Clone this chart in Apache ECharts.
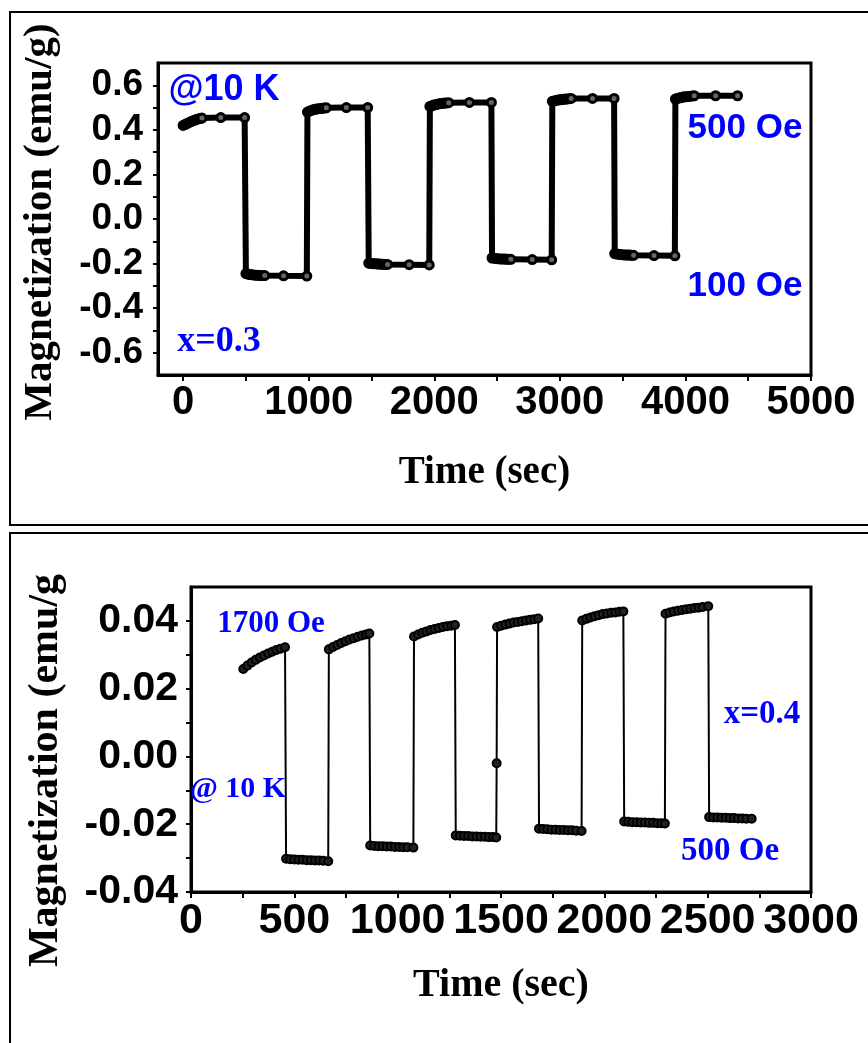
<!DOCTYPE html>
<html>
<head>
<meta charset="utf-8">
<script src="https://cdn.jsdelivr.net/npm/echarts@6/dist/echarts.min.js"></script>
<style>
html,body{margin:0;padding:0;background:#fff;}
#c{width:868px;height:1043px;}
</style>
</head>
<body>
<div id="c"></div>
<script>
// ---------- Panel (a): x = 0.3, 500 Oe / 100 Oe, 10 K ----------
const time1 = [
  0, 15, 30, 45, 60, 75, 90, 105, 120, 135, 150, 300, 490,
  500, 515, 530, 545, 560, 575, 590, 605, 620, 635, 650, 800, 985,
  990, 1005, 1020, 1035, 1050, 1065, 1080, 1095, 1110, 1125, 1140, 1300, 1470,
  1478, 1493, 1508, 1523, 1538, 1553, 1568, 1583, 1598, 1613, 1628, 1800, 1960,
  1965, 1980, 1995, 2010, 2025, 2040, 2055, 2070, 2085, 2100, 2115, 2280, 2455,
  2460, 2475, 2490, 2505, 2520, 2535, 2550, 2565, 2580, 2595, 2610, 2780, 2935,
  2940, 2955, 2970, 2985, 3000, 3015, 3030, 3045, 3060, 3075, 3090, 3260, 3432,
  3437, 3452, 3467, 3482, 3497, 3512, 3527, 3542, 3557, 3572, 3587, 3750, 3916,
  3920, 3935, 3950, 3965, 3980, 3995, 4010, 4025, 4040, 4055, 4070, 4240, 4415
];
const mag1 = [
  0.420, 0.424, 0.428, 0.432, 0.436, 0.440, 0.443, 0.446, 0.449, 0.451, 0.453, 0.455, 0.455,
  -0.245, -0.247, -0.249, -0.250, -0.251, -0.252, -0.252, -0.253, -0.253, -0.254, -0.254, -0.255, -0.256,
  0.480, 0.484, 0.487, 0.490, 0.492, 0.494, 0.495, 0.496, 0.497, 0.498, 0.499, 0.500, 0.500,
  -0.198, -0.199, -0.200, -0.201, -0.201, -0.202, -0.202, -0.203, -0.203, -0.204, -0.204, -0.205, -0.206,
  0.505, 0.508, 0.511, 0.513, 0.515, 0.517, 0.518, 0.519, 0.520, 0.521, 0.522, 0.523, 0.523,
  -0.175, -0.176, -0.177, -0.178, -0.179, -0.179, -0.180, -0.180, -0.181, -0.181, -0.181, -0.182, -0.183,
  0.528, 0.530, 0.532, 0.534, 0.535, 0.536, 0.537, 0.538, 0.539, 0.540, 0.541, 0.541, 0.541,
  -0.155, -0.157, -0.158, -0.159, -0.160, -0.161, -0.161, -0.162, -0.162, -0.163, -0.163, -0.164, -0.165,
  0.538, 0.541, 0.543, 0.545, 0.547, 0.548, 0.549, 0.550, 0.551, 0.552, 0.553, 0.553, 0.553
];
const xTicks1 = [0, 500, 1000, 1500, 2000, 2500, 3000, 3500, 4000, 4500, 5000];
const xLabels1 = [0, 1000, 2000, 3000, 4000, 5000];
const yTicks1 = [-0.6, -0.5, -0.4, -0.3, -0.2, -0.1, 0, 0.1, 0.2, 0.3, 0.4, 0.5, 0.6];
const yLabels1 = [-0.6, -0.4, -0.2, 0, 0.2, 0.4, 0.6];

// ---------- Panel (b): x = 0.4, 1700 Oe / 500 Oe, 10 K ----------
const time2 = [
  253, 273, 293, 313, 333, 353, 373, 393, 413, 433, 455,
  460, 480, 500, 520, 540, 560, 580, 600, 620, 640, 664,
  667, 687, 707, 727, 747, 767, 787, 807, 827, 847, 863,
  867, 887, 907, 927, 947, 967, 987, 1007, 1027, 1047, 1076,
  1079, 1099, 1119, 1139, 1159, 1179, 1199, 1219, 1239, 1259, 1277,
  1281, 1301, 1321, 1341, 1361, 1381, 1401, 1421, 1441, 1461, 1477,
  1479,
  1481, 1501, 1521, 1541, 1561, 1581, 1601, 1621, 1641, 1661, 1680,
  1684, 1704, 1724, 1744, 1764, 1784, 1804, 1824, 1844, 1864, 1890,
  1893, 1913, 1933, 1953, 1973, 1993, 2013, 2033, 2053, 2073, 2092,
  2096, 2116, 2136, 2156, 2176, 2196, 2216, 2236, 2256, 2276, 2293,
  2296, 2316, 2336, 2356, 2376, 2396, 2416, 2436, 2456, 2476, 2503,
  2507, 2527, 2547, 2567, 2587, 2607, 2627, 2647, 2667, 2687, 2713
];
const mag2 = [
  0.0258, 0.0268, 0.0277, 0.0285, 0.0292, 0.0298, 0.0304, 0.0309, 0.0314, 0.0318, 0.0322,
  -0.0302, -0.0303, -0.0304, -0.0305, -0.0305, -0.0306, -0.0306, -0.0307, -0.0307, -0.0308, -0.0309,
  0.0316, 0.0323, 0.0329, 0.0335, 0.0340, 0.0345, 0.0349, 0.0353, 0.0357, 0.0360, 0.0363,
  -0.0263, -0.0264, -0.0265, -0.0265, -0.0266, -0.0266, -0.0267, -0.0267, -0.0268, -0.0268, -0.0269,
  0.0354, 0.0360, 0.0365, 0.0369, 0.0373, 0.0376, 0.0379, 0.0382, 0.0384, 0.0386, 0.0388,
  -0.0233, -0.0234, -0.0235, -0.0235, -0.0236, -0.0236, -0.0237, -0.0237, -0.0238, -0.0238, -0.0239,
  -0.0020,
  0.0382, 0.0386, 0.0389, 0.0392, 0.0395, 0.0397, 0.0399, 0.0401, 0.0403, 0.0405, 0.0407,
  -0.0213, -0.0214, -0.0215, -0.0216, -0.0216, -0.0217, -0.0217, -0.0218, -0.0218, -0.0219, -0.0220,
  0.0401, 0.0406, 0.0410, 0.0414, 0.0417, 0.0420, 0.0422, 0.0424, 0.0425, 0.0427, 0.0428,
  -0.0192, -0.0193, -0.0194, -0.0194, -0.0195, -0.0195, -0.0196, -0.0196, -0.0197, -0.0197, -0.0198,
  0.0421, 0.0425, 0.0428, 0.0430, 0.0432, 0.0434, 0.0436, 0.0438, 0.0439, 0.0441, 0.0443,
  -0.0179, -0.0180, -0.0180, -0.0181, -0.0181, -0.0182, -0.0182, -0.0183, -0.0183, -0.0184, -0.0184
];
const xTicks2 = [0, 250, 500, 750, 1000, 1250, 1500, 1750, 2000, 2250, 2500, 2750, 3000];
const xLabels2 = [0, 500, 1000, 1500, 2000, 2500, 3000];
const yTicks2 = [-0.04, -0.03, -0.02, -0.01, 0, 0.01, 0.02, 0.03, 0.04];
const yLabels2 = [-0.04, -0.02, 0, 0.02, 0.04];

const xName = 'Time (sec)';
const yName1 = 'Magnetization (emu/g)';
const yName2 = 'Magnetization (emu/g';

const SANS = "'Liberation Sans', Arial, sans-serif";
const SERIF = "'Liberation Serif', 'Times New Roman', serif";
const BLUE = '#0000ff';

function zip(a, b) { return a.map((v, i) => [v, b[i]]); }

function xAxisCfg(grid, min, max, ticks, labels, fs, gap, nfs) {
  return {
    type: 'value', gridIndex: grid, min: min, max: max,
    axisLine: { show: true, onZero: false, lineStyle: { color: '#000', width: 3 } },
    axisTick: { show: true, inside: false, length: 6, customValues: ticks, lineStyle: { color: '#000', width: 2 } },
    axisLabel: { show: true, customValues: labels, margin: 8, color: '#000', fontFamily: SANS, fontWeight: 'bold', fontSize: fs,
      formatter: v => String(Math.round(v)) },
    splitLine: { show: false },
    name: xName, nameLocation: 'middle', nameGap: gap,
    nameTextStyle: { fontFamily: SERIF, fontWeight: 'bold', fontSize: nfs, color: '#000' }
  };
}
function yAxisCfg(grid, min, max, ticks, labels, digits, fs, margin, name, gap, nfs, pad) {
  return {
    type: 'value', gridIndex: grid, min: min, max: max,
    axisLine: { show: true, onZero: false, lineStyle: { color: '#000', width: 3 } },
    axisTick: { show: true, inside: false, length: 5, customValues: ticks, lineStyle: { color: '#000', width: 2 } },
    axisLabel: { show: true, customValues: labels, margin: margin, color: '#000', fontFamily: SANS, fontWeight: 'bold', fontSize: fs,
      formatter: v => Number(v).toFixed(digits) },
    splitLine: { show: false },
    name: name, nameLocation: 'middle', nameGap: gap, nameRotate: 90,
    nameTextStyle: { fontFamily: SERIF, fontWeight: 'bold', fontSize: nfs, color: '#000', padding: pad }
  };
}

function txt(text, x, y, font) {
  return { type: 'text', x: x, y: y, z: 10,
    style: { text: text, fill: BLUE, font: font, textAlign: 'center', textVerticalAlign: 'middle' } };
}

const chart = echarts.init(document.getElementById('c'), null, { renderer: 'canvas' });
chart.setOption({
  animation: false,
  backgroundColor: '#fff',
  grid: [
    { left: 158, top: 63, width: 653, height: 312, show: true, borderColor: '#000', borderWidth: 3, containLabel: false },
    { left: 191, top: 587, width: 620, height: 305, show: true, borderColor: '#000', borderWidth: 3, containLabel: false }
  ],
  xAxis: [
    xAxisCfg(0, -200, 5000, xTicks1, xLabels1, 40, 78, 39),
    xAxisCfg(1, 0, 3000, xTicks2, xLabels2, 43, 74, 40)
  ],
  yAxis: [
    yAxisCfg(0, -0.7, 0.7, yTicks1, yLabels1, 1, 37, 15, yName1, 97, 41, [0, 6, 0, 0]),
    yAxisCfg(1, -0.04, 0.05, yTicks2, yLabels2, 2, 41, 13, yName2, 124, 42, [0, 62, 0, 0])
  ],
  series: [
    { type: 'line', xAxisIndex: 0, yAxisIndex: 0, data: zip(time1, mag1),
      symbol: 'circle', symbolSize: 8, showSymbol: true,
      lineStyle: { color: '#000', width: 6 },
      itemStyle: { color: '#666', borderColor: '#000', borderWidth: 3 } },
    { type: 'line', xAxisIndex: 1, yAxisIndex: 1, data: zip(time2, mag2),
      symbol: 'circle', symbolSize: 8, showSymbol: true,
      lineStyle: { color: '#000', width: 2 },
      itemStyle: { color: '#222', borderColor: '#000', borderWidth: 2 } }
  ],
  graphic: [
    { type: 'rect', shape: { x: 10, y: 12, width: 880, height: 513 }, style: { fill: 'none', stroke: '#000', lineWidth: 2 } },
    { type: 'rect', shape: { x: 10, y: 533, width: 880, height: 540 }, style: { fill: 'none', stroke: '#000', lineWidth: 2 } },
    txt('@10 K', 224, 90, "bold 36px 'Liberation Sans', Arial, sans-serif"),
    txt('500 Oe', 745, 128, "bold 35px 'Liberation Sans', Arial, sans-serif"),
    txt('100 Oe', 745, 286, "bold 35px 'Liberation Sans', Arial, sans-serif"),
    txt('x=0.3', 219, 342, "bold 36px 'Liberation Serif', 'Times New Roman', serif"),
    txt('1700 Oe', 271, 624, "bold 31px 'Liberation Serif', 'Times New Roman', serif"),
    txt('@ 10 K', 238, 789, "bold 30px 'Liberation Serif', 'Times New Roman', serif"),
    txt('x=0.4', 762, 714, "bold 33px 'Liberation Serif', 'Times New Roman', serif"),
    txt('500 Oe', 730, 851, "bold 33px 'Liberation Serif', 'Times New Roman', serif")
  ]
});
</script>
</body>
</html>
